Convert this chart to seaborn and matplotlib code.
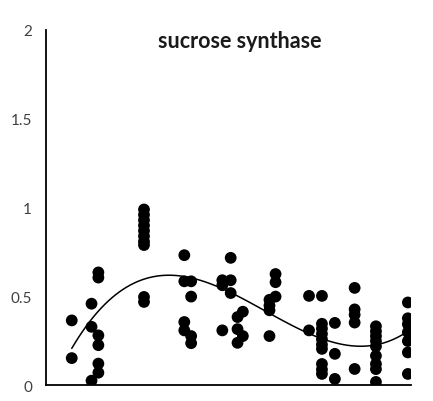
import numpy as np
import pandas as pd
import matplotlib
matplotlib.use("Agg")
import matplotlib.pyplot as plt
import seaborn as sns

# Sampling time (h) and relative expression, one list per sampling group
x_groups = [1.7, 3.0, 3.45, 6.45, 9.1, 9.55, 11.6, 12.15, 12.6, 12.95,
            14.7, 15.1, 17.3, 18.15, 19.0, 20.3, 21.7, 23.8]
y_groups = [
    [0.366, 0.154],
    [0.46, 0.33, 0.027],
    [0.636, 0.607, 0.282, 0.227, 0.123, 0.072],
    [0.99, 0.96, 0.93, 0.90, 0.87, 0.84, 0.81, 0.79, 0.498, 0.47],
    [0.733, 0.586, 0.357, 0.31],
    [0.586, 0.50, 0.278, 0.238],
    [0.592, 0.564, 0.31],
    [0.718, 0.592, 0.52],
    [0.385, 0.317, 0.24],
    [0.415, 0.278],
    [0.482, 0.45, 0.423, 0.278],
    [0.627, 0.581, 0.50],
    [0.504, 0.31],
    [0.504, 0.347, 0.32, 0.29, 0.26, 0.23, 0.206, 0.121, 0.09, 0.065],
    [0.352, 0.178, 0.037],
    [0.549, 0.428, 0.398, 0.354, 0.093],
    [0.333, 0.305, 0.278, 0.25, 0.22, 0.167, 0.121, 0.092, 0.02],
    [0.467, 0.378, 0.345, 0.30, 0.25, 0.186, 0.065],
]
y_ticks = [0, 0.5, 1, 1.5, 2]
y_tick_labels = ["0", "0.5", "1", "1.5", "2"]
x_ticks = [0, 6, 12, 18, 24]
title = "sucrose synthase"

rows = [(x, y) for x, ys in zip(x_groups, y_groups) for y in ys]
df = pd.DataFrame(rows, columns=["time", "expression"])

sns.set_style("white")
plt.rcParams["font.family"] = ["Lato", "DejaVu Sans"]

fig = plt.figure(figsize=(4.33, 4.02), dpi=100)
ax = fig.add_axes([0.106, 0.0386, 0.843, 0.8844])

sns.regplot(data=df, x="time", y="expression", order=3, ci=None, ax=ax,
            scatter_kws=dict(s=72, color="black", edgecolors="none", alpha=1),
            line_kws=dict(color="black", lw=1.1))

ax.set_xlim(0, 24)
ax.set_ylim(0, 2)
ax.set_xticks(x_ticks)
ax.set_xticklabels([])
ax.set_yticks(y_ticks)
ax.set_yticklabels(y_tick_labels)
ax.set_xlabel("")
ax.set_ylabel("")
ax.tick_params(axis="both", direction="in", length=4, width=1, color="black",
               labelsize=11, labelcolor="#404040", pad=10)
ax.tick_params(axis="x", pad=2)
sns.despine(ax=ax)
for side in ("left", "bottom"):
    ax.spines[side].set_color("black")
    ax.spines[side].set_linewidth(1.3)
ax.spines["left"].set_zorder(0)

ax.text(0.53, 0.97, title, transform=ax.transAxes, ha="center", va="center",
        fontsize=15.5, fontweight="bold", color="#1a1a1a")

fig.savefig("out.png", dpi=100)
